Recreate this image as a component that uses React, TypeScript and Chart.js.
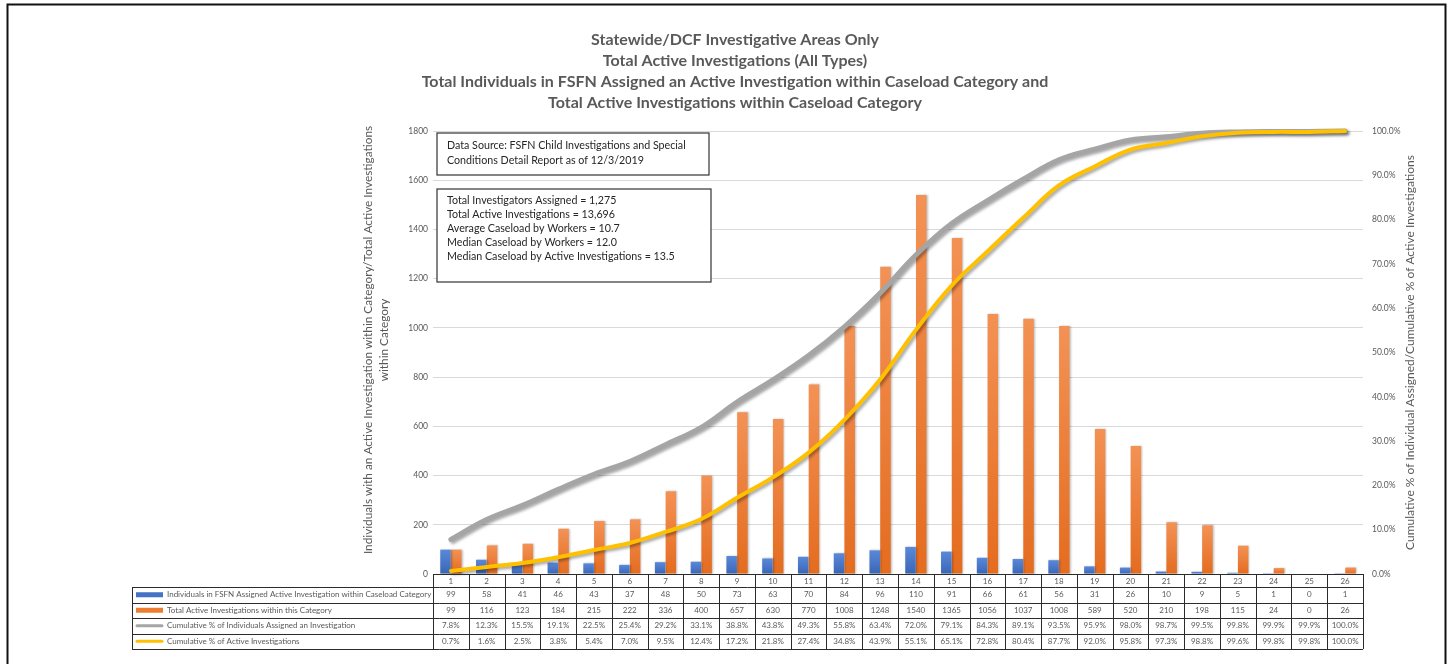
import React, { useEffect, useRef } from "react";
import { Chart, registerables } from "chart.js";

Chart.register(...registerables);

const categories = ["1","2","3","4","5","6","7","8","9","10","11","12","13","14","15","16","17","18","19","20","21","22","23","24","25","26"];
const individuals = [99,58,41,46,43,37,48,50,73,63,70,84,96,110,91,66,61,56,31,26,10,9,5,1,0,1];
const activeInvestigations = [99,116,123,184,215,222,336,400,657,630,770,1008,1248,1540,1365,1056,1037,1008,589,520,210,198,115,24,0,26];
const cumIndividualsPct = [7.8,12.3,15.5,19.1,22.5,25.4,29.2,33.1,38.8,43.8,49.3,55.8,63.4,72.0,79.1,84.3,89.1,93.5,95.9,98.0,98.7,99.5,99.8,99.9,99.9,100.0];
const cumActivePct = [0.7,1.6,2.5,3.8,5.4,7.0,9.5,12.4,17.2,21.8,27.4,34.8,43.9,55.1,65.1,72.8,80.4,87.7,92.0,95.8,97.3,98.8,99.6,99.8,99.8,100.0];

const seriesNames = [
  "Individuals in FSFN Assigned Active Investigation within Caseload Category",
  "Total Active Investigations within this Category",
  "Cumulative % of Individuals Assigned an Investigation",
  "Cumulative % of Active Investigations",
];
const titleLines = [
  "Statewide/DCF Investigative Areas Only",
  "Total Active Investigations (All Types)",
  "Total Individuals in FSFN Assigned an Active Investigation within Caseload Category and",
  "Total Active Investigations within Caseload Category",
];
const leftAxisTitle = [
  "Individuals with an Active Investigation within Category/Total Active Investigations",
  "within Category",
];
const rightAxisTitle = "Cumulative % of Individual Assigned/Cumulative % of Active Investigations";
const sourceLines = [
  "Data Source: FSFN Child Investigations and Special",
  "Conditions Detail Report as of 12/3/2019",
];
const statsLines = [
  "Total Investigators Assigned = 1,275",
  "Total Active Investigations = 13,696",
  "Average Caseload by Workers = 10.7",
  "Median Caseload by Workers = 12.0",
  "Median Caseload by Active Investigations = 13.5",
];

const BLUE = "#4472C4";
const ORANGE = "#ED7D31";
const GRAY = "#A5A5A5";
const YELLOW = "#FFC000";
const TEXT = "#595959";
const FONT = "Lato, 'Open Sans', sans-serif";

function barGradient(top: string, bottom: string) {
  return (c: any) => {
    const chart = c.chart;
    const area = chart.chartArea;
    if (!area || c.parsed == null) return bottom;
    const ys = chart.scales.y;
    const yTop = ys.getPixelForValue(c.parsed.y);
    const yBase = ys.getPixelForValue(0);
    if (!isFinite(yTop) || Math.abs(yBase - yTop) < 1) return bottom;
    const g = chart.ctx.createLinearGradient(0, yTop, 0, yBase);
    g.addColorStop(0, top);
    g.addColorStop(1, bottom);
    return g;
  };
}

const shadowPlugin = {
  id: "shadows",
  beforeDatasetDraw(chart: any, args: any) {
    const ds = chart.data.datasets[args.index];
    const ctx = chart.ctx;
    ctx.save();
    if (ds.type === "line") {
      ctx.shadowColor = "rgba(0,0,0,0.35)";
      ctx.shadowBlur = 3;
      ctx.shadowOffsetX = 2;
      ctx.shadowOffsetY = 2;
    } else {
      ctx.shadowColor = "rgba(0,0,0,0.25)";
      ctx.shadowBlur = 2;
      ctx.shadowOffsetX = 1;
      ctx.shadowOffsetY = 0;
    }
  },
  afterDatasetDraw(chart: any) {
    chart.ctx.restore();
  },
};

const decorPlugin = {
  id: "decor",
  beforeDraw(chart: any) {
    const ctx = chart.ctx;
    ctx.save();
    ctx.fillStyle = "#ffffff";
    ctx.fillRect(0, 0, chart.width, chart.height);
    // page frame
    ctx.strokeStyle = "#111";
    ctx.lineWidth = 2;
    ctx.beginPath();
    ctx.moveTo(7.5, chart.height + 5);
    ctx.lineTo(7.5, 4.5);
    ctx.lineTo(1445.5, 4.5);
    ctx.lineTo(1445.5, chart.height + 5);
    ctx.stroke();
    // main title
    ctx.fillStyle = TEXT;
    ctx.textAlign = "center";
    ctx.textBaseline = "middle";
    ctx.font = `bold 16px ${FONT}`;
    titleLines.forEach((t, i) => ctx.fillText(t, 735, 40 + i * 21));
    // axis titles
    const area = chart.chartArea;
    ctx.font = `11.8px ${FONT}`;
    ctx.save();
    ctx.translate(368, 340);
    ctx.rotate(-Math.PI / 2);
    ctx.fillText(leftAxisTitle[0], 0, 0);
    ctx.fillText(leftAxisTitle[1], 0, 16);
    ctx.restore();
    ctx.save();
    ctx.translate(1410, (area.top + area.bottom) / 2);
    ctx.rotate(-Math.PI / 2);
    ctx.font = `12px ${FONT}`;
    ctx.fillText(rightAxisTitle, 0, 0);
    ctx.restore();
    ctx.restore();
  },
  afterDraw(chart: any) {
    const ctx = chart.ctx;
    const area = chart.chartArea;
    const xs = chart.scales.x;
    ctx.save();
    // text boxes
    ctx.strokeStyle = "#333";
    ctx.lineWidth = 1.2;
    ctx.fillStyle = "#fff";
    ctx.fillRect(437, 133, 272, 42);
    ctx.strokeRect(437, 133, 272, 42);
    ctx.fillRect(437, 189, 274, 93);
    ctx.strokeRect(437, 189, 274, 93);
    ctx.fillStyle = "#262626";
    ctx.textAlign = "left";
    ctx.textBaseline = "middle";
    ctx.font = `10.7px ${FONT}`;
    sourceLines.forEach((t, i) => ctx.fillText(t, 447, 146 + i * 14.5));
    statsLines.forEach((t, i) => ctx.fillText(t, 447, 201 + i * 14));

    // data table
    const n = categories.length;
    const colW = (area.right - area.left) / n;
    const top = area.bottom;
    const headerB = top + 13;
    const rowH = 15.5;
    const legendL = 132;
    const rows = [
      individuals.map((v) => String(v)),
      activeInvestigations.map((v) => String(v)),
      cumIndividualsPct.map((v) => v.toFixed(1) + "%"),
      cumActivePct.map((v) => v.toFixed(1) + "%"),
    ];
    const tableBottom = headerB + rowH * 4;
    ctx.strokeStyle = "#2b2b2b";
    ctx.lineWidth = 1;
    ctx.beginPath();
    ctx.moveTo(area.left, top + 0.5);
    ctx.lineTo(area.right, top + 0.5);
    for (let r = 0; r <= 4; r++) {
      const y = Math.round(headerB + r * rowH) + 0.5;
      ctx.moveTo(legendL, y);
      ctx.lineTo(area.right, y);
    }
    for (let i = 0; i <= n; i++) {
      const x = Math.round(area.left + i * colW) + 0.5;
      ctx.moveTo(x, top);
      ctx.lineTo(x, tableBottom);
    }
    ctx.moveTo(legendL + 0.5, headerB);
    ctx.lineTo(legendL + 0.5, tableBottom);
    ctx.stroke();

    ctx.fillStyle = TEXT;
    ctx.textAlign = "center";
    ctx.font = `8px ${FONT}`;
    categories.forEach((c, i) => {
      ctx.fillText(c, xs.getPixelForValue(i), top + 7);
    });
    rows.forEach((row, r) => {
      const cy = headerB + r * rowH + rowH / 2;
      row.forEach((t, i) => ctx.fillText(t, xs.getPixelForValue(i), cy));
    });
    const keyColors = [BLUE, ORANGE, GRAY, YELLOW];
    ctx.textAlign = "left";
    ctx.font = `8px ${FONT}`;
    keyColors.forEach((col, r) => {
      const cy = headerB + r * rowH + rowH / 2;
      if (r < 2) {
        ctx.fillStyle = col;
        ctx.fillRect(136, cy - 2.5, 27, 5);
      } else {
        ctx.strokeStyle = col;
        ctx.lineWidth = 3;
        ctx.lineCap = "round";
        ctx.beginPath();
        ctx.moveTo(137, cy);
        ctx.lineTo(162, cy);
        ctx.stroke();
      }
      ctx.fillStyle = TEXT;
      ctx.fillText(seriesNames[r], 167, cy);
    });
    ctx.restore();
  },
};

export default function App() {
  const ref = useRef<HTMLCanvasElement | null>(null);
  useEffect(() => {
    document.body.style.margin = "0";
    const canvas = ref.current;
    if (!canvas) return;
    const chart = new Chart(canvas, {
      type: "bar",
      data: {
        labels: categories,
        datasets: [
          {
            type: "line",
            label: seriesNames[3],
            data: cumActivePct,
            yAxisID: "y1",
            borderColor: YELLOW,
            borderWidth: 4,
            pointRadius: 0,
            tension: 0.4,
            borderCapStyle: "round",
            clip: false,
            order: 0,
          } as any,
          {
            type: "line",
            label: seriesNames[2],
            data: cumIndividualsPct,
            yAxisID: "y1",
            borderColor: GRAY,
            borderWidth: 5,
            pointRadius: 0,
            tension: 0.4,
            borderCapStyle: "round",
            clip: false,
            order: 1,
          } as any,
          {
            type: "bar",
            label: seriesNames[0],
            data: individuals,
            yAxisID: "y",
            backgroundColor: barGradient("#5A89DA", "#3A65B5"),
            categoryPercentage: 0.6,
            barPercentage: 0.98,
            order: 2,
          } as any,
          {
            type: "bar",
            label: seriesNames[1],
            data: activeInvestigations,
            yAxisID: "y",
            backgroundColor: barGradient("#F39255", "#E46C1F"),
            categoryPercentage: 0.6,
            barPercentage: 0.98,
            order: 3,
          } as any,
        ],
      },
      options: {
        responsive: false,
        animation: false,
        events: [],
        layout: { padding: { top: 131, bottom: 90, left: 0, right: 0 } },
        plugins: {
          legend: { display: false },
          title: { display: false },
          tooltip: { enabled: false },
        },
        scales: {
          x: { display: false, grid: { display: false } },
          y: {
            position: "left",
            min: 0,
            max: 1800,
            afterFit: (s: any) => { s.width = 433; },
            border: { display: false },
            grid: { color: "#D9D9D9", drawTicks: false, lineWidth: 1 },
            ticks: {
              stepSize: 200,
              padding: 5,
              color: TEXT,
              font: { family: FONT, size: 8.5 },
              callback: (v: any) => String(v),
            },
          },
          y1: {
            position: "right",
            min: 0,
            max: 100,
            afterFit: (s: any) => { s.width = 90; },
            border: { display: false },
            grid: { display: false, drawTicks: false },
            ticks: {
              stepSize: 10,
              padding: 9,
              color: TEXT,
              font: { family: FONT, size: 8.5 },
              callback: (v: any) => Number(v).toFixed(1) + "%",
            },
          },
        },
      },
      plugins: [shadowPlugin, decorPlugin],
    } as any);
    return () => chart.destroy();
  }, []);
  return (
    <div style={{ position: "relative", width: 1453, height: 664, overflow: "hidden" }}>
      <canvas ref={ref} width={1453} height={664} style={{ display: "block" }} />
    </div>
  );
}
